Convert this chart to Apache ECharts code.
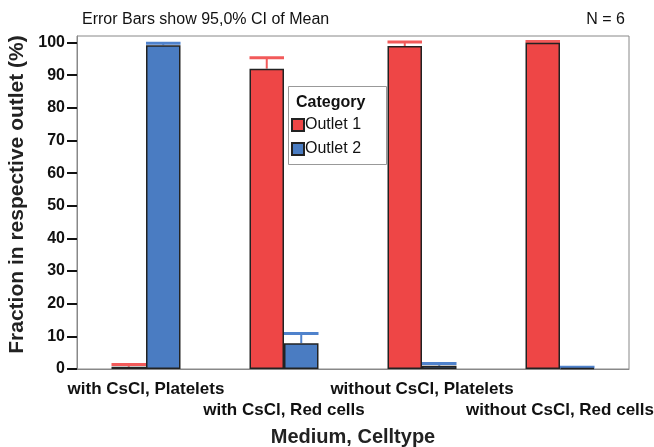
<!DOCTYPE html>
<html>
<head>
<meta charset="utf-8">
<script src="https://cdn.jsdelivr.net/npm/echarts@6/dist/echarts.min.js"></script>
<style>
  html, body { margin: 0; padding: 0; background: #fff; }
  #chart { width: 654px; height: 447px; }
</style>
</head>
<body>
<div id="chart"></div>
<script>
// Medium / cell type groups
const categories = ['with CsCl, Platelets', 'with CsCl, Red cells', 'without CsCl, Platelets', 'without CsCl, Red cells'];
// Mean fraction (%) in each outlet
const outlet1Mean = [0.7, 92.0, 98.9, 99.9];
const outlet2Mean = [99.2, 7.9, 1.0, 0.3];
// Upper limit of the 95% confidence interval
const outlet1Upper = [1.4, 95.3, 100.2, 100.3];
const outlet2Upper = [99.8, 10.9, 1.7, 0.5];
// Value axis ticks
const yTicks = [0, 10, 20, 30, 40, 50, 60, 70, 80, 90, 100];

const RED = '#ee4646';
const BLUE = '#4a7cc2';
const RED_CI = '#f25a5a';
const BLUE_CI = '#4f82cc';
const FONT = '"Liberation Sans", Arial, sans-serif';

// Error bar: stem from the mean up to the upper CI limit, capped with a bar-wide line
function errorBar(side, color) {
  return function (params, api) {
    const i = api.value(0);
    const base = api.coord([i, api.value(1)]);
    const top = api.coord([i, api.value(2)]);
    const band = api.size([1, 0])[0];
    const w = band * 0.25;
    const cx = base[0] + side * w / 2;
    return {
      type: 'group',
      children: [
        { type: 'line', shape: { x1: cx, y1: base[1], x2: cx, y2: top[1] }, style: { stroke: color, lineWidth: 2 } },
        { type: 'line', shape: { x1: cx - w / 2, y1: top[1], x2: cx + w / 2, y2: top[1] }, style: { stroke: color, lineWidth: 3 } }
      ]
    };
  };
}

const chart = echarts.init(document.getElementById('chart'), null, { renderer: 'canvas' });
chart.setOption({
  animation: false,
  backgroundColor: '#fff',
  textStyle: { fontFamily: FONT },
  title: [
    { text: 'Error Bars show 95,0% CI of Mean', left: 82, top: 12, padding: 0,
      textStyle: { fontFamily: FONT, fontSize: 16, fontWeight: 'normal', color: '#111' } },
    { text: 'N = 6', right: 29, top: 12, padding: 0,
      textStyle: { fontFamily: FONT, fontSize: 16, fontWeight: 'normal', color: '#111' } }
  ],
  grid: {
    left: 77, right: 25, top: 36, bottom: 78,
    outerBoundsMode: 'none',
    containLabel: false,
    show: true, borderColor: '#888', borderWidth: 1, backgroundColor: 'transparent'
  },
  legend: {
    data: ['Outlet 1', 'Outlet 2'],
    orient: 'vertical',
    left: 291, top: 117,
    z: 20,
    padding: 0,
    itemWidth: 12, itemHeight: 12, itemGap: 8,
    icon: 'rect',
    textStyle: { fontFamily: FONT, fontSize: 16, color: '#111', padding: [0, 0, 0, -4] }
  },
  graphic: {
    z: 10,
    elements: [
      { type: 'rect', left: 288, top: 86,
        shape: { width: 98, height: 78 },
        style: { fill: '#fff', stroke: '#999', lineWidth: 1 } },
      { type: 'text', left: 296, top: 95,
        style: { text: 'Category', fontFamily: FONT, fontSize: 16, fontWeight: 'bold', fill: '#111' } }
    ]
  },
  xAxis: {
    type: 'category',
    data: categories,
    name: 'Medium, Celltype',
    nameLocation: 'middle',
    nameGap: 58,
    nameTextStyle: { fontFamily: FONT, fontSize: 20, fontWeight: 'bold', color: '#222' },
    axisLine: { lineStyle: { color: '#888', width: 1 } },
    axisTick: { alignWithLabel: true, length: 7, lineStyle: { color: '#111', width: 2 } },
    axisLabel: {
      interval: 0,
      margin: 10,
      fontFamily: FONT, fontSize: 17, fontWeight: 'bold', color: '#111',
      lineHeight: 21,
      formatter: function (v, i) { return i % 2 === 1 ? '\n' + v : v; }
    },
    splitLine: { show: false }
  },
  yAxis: {
    type: 'value',
    min: 0, max: 102,
    name: 'Fraction in respective outlet (%)',
    nameLocation: 'middle',
    nameGap: 44,
    nameTextStyle: { fontFamily: FONT, fontSize: 21, fontWeight: 'bold', color: '#222', padding: [0, 0, 0, 16] },
    axisLine: { show: true, lineStyle: { color: '#888', width: 1 } },
    axisTick: { show: true, length: 10, customValues: yTicks, lineStyle: { color: '#111', width: 2 } },
    axisLabel: { margin: 12, customValues: yTicks, fontFamily: FONT, fontSize: 16, fontWeight: 'bold', color: '#111' },
    splitLine: { show: false }
  },
  series: [
    {
      name: 'Outlet 1 CI', type: 'custom', z: 1,
      renderItem: errorBar(-1, RED_CI),
      data: categories.map((c, i) => [i, outlet1Mean[i], outlet1Upper[i]]),
      encode: { x: 0, y: [1, 2] }
    },
    {
      name: 'Outlet 2 CI', type: 'custom', z: 1,
      renderItem: errorBar(1, BLUE_CI),
      data: categories.map((c, i) => [i, outlet2Mean[i], outlet2Upper[i]]),
      encode: { x: 0, y: [1, 2] }
    },
    {
      name: 'Outlet 1', type: 'bar', z: 3,
      barWidth: '25%', barGap: '0%',
      data: outlet1Mean,
      itemStyle: { color: RED, borderColor: '#222', borderWidth: 1.5 }
    },
    {
      name: 'Outlet 2', type: 'bar', z: 3,
      barWidth: '25%', barGap: '0%',
      data: outlet2Mean,
      itemStyle: { color: BLUE, borderColor: '#222', borderWidth: 1.5 }
    }
  ]
});
</script>
</body>
</html>
